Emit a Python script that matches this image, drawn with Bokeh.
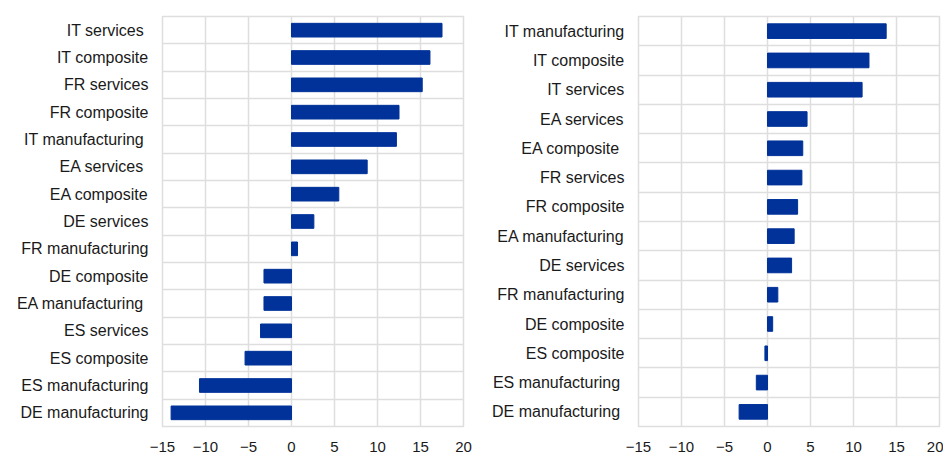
from bokeh.plotting import figure
from bokeh.layouts import row
from bokeh.models import FixedTicker, Range1d, ColumnDataSource
from bokeh.embed import file_html
from bokeh.resources import INLINE

# Left panel (top to bottom)
left_labels = ["IT services ", "IT composite", "FR services", "FR composite",
               "IT manufacturing ", "EA  services", "EA composite", "DE services",
               "FR manufacturing", "DE composite", "EA  manufacturing", "ES services",
               "ES composite", "ES manufacturing", "DE manufacturing"]
left_values = [17.5, 16.1, 15.2, 12.5, 12.2, 8.8, 5.5, 2.6, 0.7, -3.2, -3.2, -3.6,
               -5.4, -10.7, -14.0]

# Right panel (top to bottom)
right_labels = ["IT manufacturing", "IT composite", "IT services", "EA services",
                "EA composite ", "FR services", "FR composite", "EA manufacturing",
                "DE services", "FR manufacturing", "DE composite", "ES composite",
                "ES manufacturing ", "DE manufacturing "]
right_values = [13.8, 11.8, 11.0, 4.6, 4.1, 4.0, 3.5, 3.1, 2.8, 1.2, 0.6, -0.3,
                -1.3, -3.3]

x_ticks = [-15, -10, -5, 0, 5, 10, 15, 20]

BAR = "#003299"
GRID = "#dedede"
TXT = "#1a1a1a"
FONT = "Liberation Sans"


def make_panel(labels, values, width, border_left, border_right):
    n = len(labels)
    ys = [n - 1 - i for i in range(n)]
    src = ColumnDataSource(dict(y=ys, v=values))
    p = figure(width=width, height=454, output_backend="svg", toolbar_location=None,
               x_range=Range1d(x_ticks[0], x_ticks[-1]), y_range=Range1d(-0.5, n - 0.5),
               min_border_left=border_left, min_border_right=border_right,
               min_border_top=16, min_border_bottom=26)
    p.hbar(y="y", left=0, right="v", height=0.5, source=src,
           fill_color=BAR, line_color=BAR)
    p.outline_line_color = GRID
    p.outline_line_width = 1.5
    p.background_fill_color = "white"
    p.border_fill_color = "white"

    p.xaxis.ticker = FixedTicker(ticks=x_ticks)
    p.xaxis.axis_line_color = None
    p.xaxis.major_tick_line_color = None
    p.xaxis.minor_tick_line_color = None
    p.xaxis.major_label_standoff = 9
    p.xaxis.major_label_text_font = FONT
    p.xaxis.major_label_text_font_size = "15px"
    p.xaxis.major_label_text_color = TXT

    p.yaxis.ticker = FixedTicker(ticks=ys)
    p.yaxis.major_label_overrides = {y: lab for y, lab in zip(ys, labels)}
    p.yaxis.axis_line_color = None
    p.yaxis.major_tick_line_color = None
    p.yaxis.minor_tick_line_color = None
    p.yaxis.major_label_standoff = 8
    p.yaxis.major_label_text_font = FONT
    p.yaxis.major_label_text_font_size = "16px"
    p.yaxis.major_label_text_color = TXT

    p.xgrid.ticker = FixedTicker(ticks=x_ticks)
    p.xgrid.grid_line_color = GRID
    p.xgrid.grid_line_width = 1.5
    p.ygrid.ticker = FixedTicker(ticks=[k + 0.5 for k in range(n - 1)])
    p.ygrid.grid_line_color = GRID
    p.ygrid.grid_line_width = 1.5
    return p


p1 = make_panel(left_labels, left_values, 475, 162, 12)
p2 = make_panel(right_labels, right_values, 468, 163, 4)
layout = row(p1, p2)

open("out.html", "w").write(file_html(layout, INLINE))
